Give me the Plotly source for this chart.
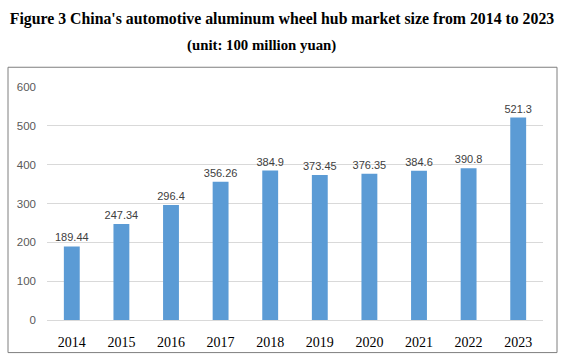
import plotly.graph_objects as go

years = ["2014", "2015", "2016", "2017", "2018", "2019", "2020", "2021", "2022", "2023"]
values = [189.44, 247.34, 296.4, 356.26, 384.9, 373.45, 376.35, 384.6, 390.8, 521.3]
labels = ["189.44", "247.34", "296.4", "356.26", "384.9", "373.45", "376.35", "384.6", "390.8", "521.3"]
y_ticks = [0, 100, 200, 300, 400, 500, 600]

W, H = 566, 362
L, R, T, B = 47, 23, 87, 39
ph = H - T - B
pw = W - L - R

def px(x):
    return (x - L) / pw

def py(y):
    return (H - B - y) / ph

fig = go.Figure(go.Bar(
    x=years, y=values, text=labels, textposition="outside", constraintext="none",
    textfont=dict(family="Liberation Sans, Arial, sans-serif", size=11, color="#404040"),
    marker=dict(color="#5B9BD5", line=dict(width=0)),
    width=0.32, cliponaxis=False, hoverinfo="skip",
))

fig.update_layout(
    width=W, height=H, margin=dict(l=L, r=R, t=T, b=B),
    paper_bgcolor="white", plot_bgcolor="white", showlegend=False,
    title=dict(text="Figure 3 China's automotive aluminum wheel hub market size from 2014 to 2023",
               x=px(282), xref="paper", xanchor="center", y=1 - 18 / H, yanchor="middle", yref="container",
               font=dict(family="Liberation Serif, Times New Roman, serif", size=15.8, color="black", weight="bold")),
    annotations=[dict(text="<b>(unit: 100 million yuan)</b>", xref="paper", yref="paper",
                      x=px(261), y=py(45), xanchor="center", yanchor="middle", showarrow=False,
                      font=dict(family="Liberation Serif, Times New Roman, serif", size=14.8, color="black"))],
    shapes=[dict(type="rect", xref="paper", yref="paper", x0=px(8), x1=px(557), y0=py(356), y1=py(67),
                 line=dict(color="#7F7F7F", width=1), fillcolor="rgba(0,0,0,0)", layer="below")],
)
fig.update_xaxes(showgrid=False, showline=False, ticks="", ticklabelstandoff=12,
                 tickfont=dict(family="Liberation Serif, Times New Roman, serif", size=14, color="black"))
fig.update_yaxes(range=[0, 600], tickvals=y_ticks, showgrid=True, gridcolor="#D9D9D9", gridwidth=1,
                 zeroline=True, zerolinecolor="#D9D9D9", zerolinewidth=1, showline=False, ticks="",
                 ticklabelstandoff=10,
                 tickfont=dict(family="Liberation Sans, Arial, sans-serif", size=11.5, color="#595959"))

fig.write_html("out.html", config={"displayModeBar": False},
               post_script="document.body.style.margin='0';")
